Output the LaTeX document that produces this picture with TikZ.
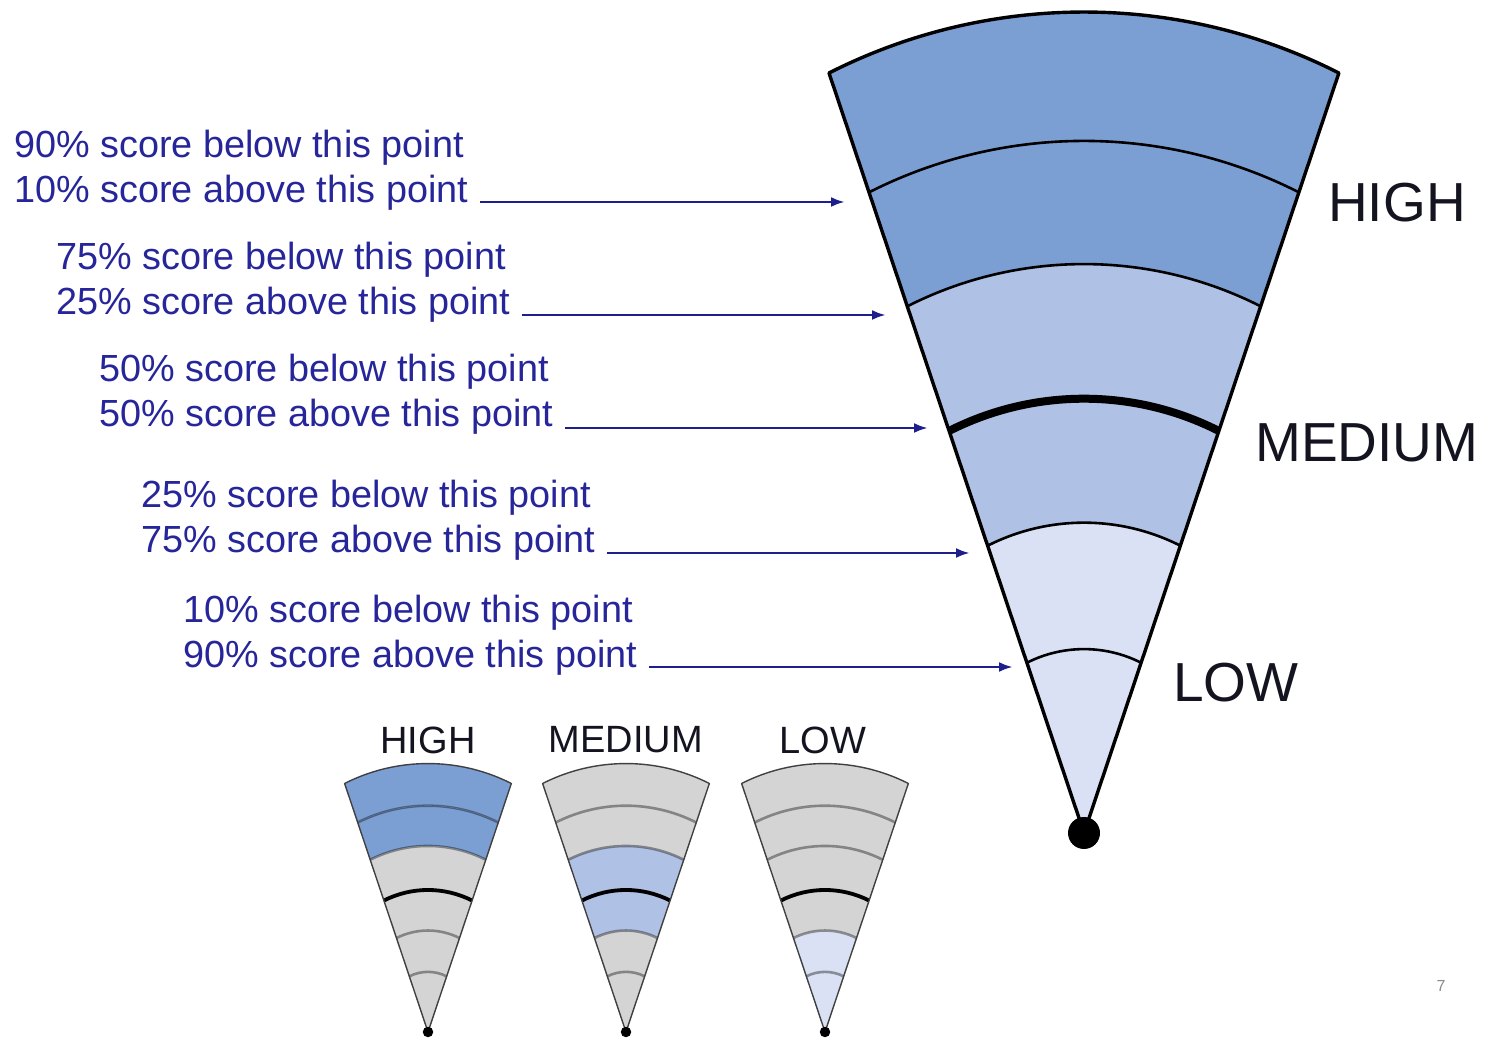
\documentclass[tikz,border=0pt]{standalone}
\usepackage{fontspec}
\setmainfont{Liberation Sans}
\usetikzlibrary{arrows.meta,calc}
\definecolor{bandA}{HTML}{7C9FD3}
\definecolor{bandB}{HTML}{B0C1E6}
\definecolor{bandC}{HTML}{DAE1F4}
\definecolor{grayband}{HTML}{D4D4D4}
\definecolor{txtblue}{HTML}{26269A}
\definecolor{arrblue}{HTML}{1E1E8C}
\definecolor{lbl}{HTML}{141420}
\def\sA{1}\def\sB{0.843}\def\sC{0.693}\def\sD{0.529}\def\sE{0.378}\def\sF{0.224}
\newcommand\bandfill[3]{\fill[#3] (-255*#1,760*#1) arc[start angle=116.9,end angle=63.1,radius=563.5*#1] -- (255*#2,760*#2) arc[start angle=63.1,end angle=116.9,radius=563.5*#2] -- cycle;}
\newcommand\apexfill[2]{\fill[#2] (-255*#1,760*#1) arc[start angle=116.9,end angle=63.1,radius=563.5*#1] -- (0,0) -- cycle;}
\newcommand\levelarc[2]{\draw[#2] (-255*#1,760*#1) arc[start angle=116.9,end angle=63.1,radius=563.5*#1];}
\newcommand\fanfull[9]{%
  \bandfill{\sA}{\sB}{#1}\bandfill{\sB}{\sC}{#2}\bandfill{\sC}{\sD}{#3}%
  \bandfill{\sD}{\sE}{#4}\bandfill{\sE}{\sF}{#5}\apexfill{\sF}{#6}%
  \levelarc{\sB}{#8}\levelarc{\sC}{#8}\levelarc{\sE}{#8}\levelarc{\sF}{#8}%
  \levelarc{\sD}{#9}%
  \draw[#7,line join=round] (0,0) -- (-255,760) arc[start angle=116.9,end angle=63.1,radius=563.5] -- cycle;%
  \fill (0,0) circle[radius=16];}
\begin{document}
\begin{tikzpicture}[x=1pt,y=1pt,
 note/.style={anchor=base west,inner sep=0pt,text=txtblue,font=\fontsize{37.8}{44}\selectfont},
 ptr/.style={draw=arrblue,line width=2.8pt,-{Latex[length=14pt,width=10pt]}},
 biglabel/.style={inner sep=0pt,text=lbl,font=\fontsize{55}{60}\selectfont},
 smalllabel/.style={inner sep=0pt,text=lbl,font=\fontsize{38}{42}\selectfont},
 mainout/.style={line width=3.4pt},
 maininner/.style={line width=2.6pt},
 mainmid/.style={line width=8pt},
 smallout/.style={line width=1.4pt,draw=black!75},
 smallinner/.style={line width=2.6pt,draw=black,draw opacity=0.38},
 smallmid/.style={line width=3.8pt},
]
\useasboundingbox[fill=white] (0,0) rectangle (1488,1039);

% main fan
\begin{scope}[shift={(1084,206)}]
  \fanfull{bandA}{bandA}{bandB}{bandB}{bandC}{bandC}{mainout}{maininner}{mainmid}
\end{scope}

% small fans
\begin{scope}[shift={(428,7)},scale=0.327]
  \fanfull{bandA}{bandA}{grayband}{grayband}{grayband}{grayband}{smallout}{smallinner}{smallmid}
\end{scope}
\begin{scope}[shift={(626,7)},scale=0.327]
  \fanfull{grayband}{grayband}{bandB}{bandB}{grayband}{grayband}{smallout}{smallinner}{smallmid}
\end{scope}
\begin{scope}[shift={(825,7)},scale=0.327]
  \fanfull{grayband}{grayband}{grayband}{grayband}{bandC}{bandC}{smallout}{smallinner}{smallmid}
\end{scope}

% notes and pointers
\node[note] (n1a) at (14,881) {90\% score below this point};
\node[note] (n1b) at (14,836) {10\% score above this point};
\node[note] (n2a) at (56,769) {75\% score below this point};
\node[note] (n2b) at (56,724) {25\% score above this point};
\node[note] (n3a) at (99,657) {50\% score below this point};
\node[note] (n3b) at (99,612) {50\% score above this point};
\node[note] (n4a) at (141,531) {25\% score below this point};
\node[note] (n4b) at (141,486) {75\% score above this point};
\node[note] (n5a) at (183,416) {10\% score below this point};
\node[note] (n5b) at (183,371) {90\% score above this point};

\coordinate (e1) at (845,837);
\coordinate (e2) at (886,724);
\coordinate (e3) at (928,611);
\coordinate (e4) at (970,486);
\coordinate (e5) at (1013,372);
\draw[ptr] ([xshift=12pt,yshift=1pt]n1b.base east) -- (e1);
\draw[ptr] ([xshift=12pt]n2b.base east) -- (e2);
\draw[ptr] ([xshift=12pt,yshift=-1pt]n3b.base east) -- (e3);
\draw[ptr] ([xshift=12pt]n4b.base east) -- (e4);
\draw[ptr] ([xshift=12pt,yshift=1pt]n5b.base east) -- (e5);

% level labels
\node[biglabel] (lh) at (1397,836) {HIGH};
\node[biglabel] (lm) at (1367,596) {MEDIUM};
\node[biglabel] (ll) at (1236,356) {LOW};

\node[smalllabel] (sh) at (428,299) {HIGH};
\node[smalllabel] (sm) at (626,299) {MEDIUM};
\node[smalllabel] (sl) at (823,299) {LOW};

\node[inner sep=0pt,text=black!45,font=\fontsize{16}{18}\selectfont] (pg) at (1441,53) {7};
\end{tikzpicture}
\end{document}
